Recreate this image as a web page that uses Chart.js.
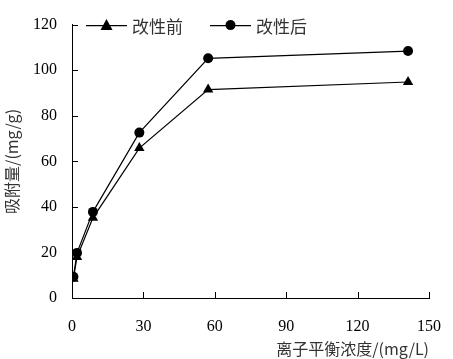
<!DOCTYPE html>
<html>
<head>
<meta charset="utf-8">
<script src="https://cdn.jsdelivr.net/npm/chart.js@4.4.0/dist/chart.umd.min.js"></script>
<style>
html,body{margin:0;padding:0;background:#fff;}
#wrap{width:453px;height:359px;}
</style>
</head>
<body>
<div id="wrap"><canvas id="c" width="453" height="359"></canvas></div>
<script>
const seriesNames = ['改性前', '改性后'];
const xBefore = [0.6, 2.1, 8.8, 28.3, 57.2, 141.2];
const yBefore = [8.5, 18.0, 35.2, 65.8, 91.5, 94.8];
const xAfter = [0.6, 2.1, 8.8, 28.3, 57.2, 141.2];
const yAfter = [9.3, 19.8, 37.8, 72.6, 105.2, 108.4];
const xTitle = '离子平衡浓度/(mg/L)';
const yTitle = '吸附量/(mg/g)';
const xMin = 0, xMax = 150, xStep = 30;
const yMin = 0, yMax = 120, yStep = 20;

const FONT = "Liberation Serif, Tinos, DejaVu Serif, serif";
const CJK = "Noto Sans CJK SC, sans-serif";

const toPts = (xs, ys) => xs.map((x, i) => ({x: x, y: ys[i]}));

const innerTicks = {
  id: 'innerTicks',
  afterDatasetsDraw(chart) {
    const ctx = chart.ctx;
    const xs = chart.scales.x, ys = chart.scales.y;
    const ca = chart.chartArea;
    ctx.save();
    ctx.strokeStyle = '#000';
    ctx.lineWidth = 1;
    ctx.beginPath();
    ys.ticks.forEach(t => {
      if (t.value === yMin) return;
      const p = Math.round(ys.getPixelForValue(t.value)) + 0.5;
      ctx.moveTo(ca.left, p); ctx.lineTo(ca.left + 6, p);
    });
    xs.ticks.forEach(t => {
      if (t.value === xMin) return;
      const p = Math.round(xs.getPixelForValue(t.value)) + 0.5;
      ctx.moveTo(p, ca.bottom); ctx.lineTo(p, ca.bottom - 6);
    });
    ctx.stroke();
    ctx.restore();
  }
};

const customLegend = {
  id: 'customLegend',
  afterDraw(chart) {
    const ctx = chart.ctx;
    const ca = chart.chartArea;
    const y = ca.top + 0.5;
    const items = [
      {x0: ca.left + 14},
      {x0: ca.left + 138}
    ];
    ctx.save();
    chart.data.datasets.forEach((ds, i) => {
      const it = items[i];
      ctx.strokeStyle = '#000';
      ctx.lineWidth = 1.2;
      ctx.beginPath();
      ctx.moveTo(it.x0, y + 0.5); ctx.lineTo(it.x0 + 41, y + 0.5);
      ctx.stroke();
      const cx = it.x0 + 20.5;
      ctx.fillStyle = '#000';
      ctx.beginPath();
      if (ds.pointStyle === 'triangle') {
        ctx.moveTo(cx, y - 6); ctx.lineTo(cx + 6, y + 5); ctx.lineTo(cx - 6, y + 5); ctx.closePath();
      } else {
        ctx.arc(cx, y, 5, 0, Math.PI * 2);
      }
      ctx.fill();
      ctx.fillStyle = '#333';
      ctx.font = "17px " + CJK;
      ctx.textBaseline = 'middle';
      ctx.textAlign = 'left';
      ctx.fillText(ds.label, it.x0 + 46, y + 1);
    });
    ctx.restore();
  }
};

new Chart(document.getElementById('c'), {
  type: 'scatter',
  data: {
    datasets: [
      {
        label: seriesNames[0],
        data: toPts(xBefore, yBefore),
        showLine: true,
        borderColor: '#000',
        backgroundColor: '#000',
        borderWidth: 1.2,
        pointStyle: 'triangle',
        pointRadius: 6,
        pointBorderWidth: 0,
        tension: 0
      },
      {
        label: seriesNames[1],
        data: toPts(xAfter, yAfter),
        showLine: true,
        borderColor: '#000',
        backgroundColor: '#000',
        borderWidth: 1.2,
        pointStyle: 'circle',
        pointRadius: 5,
        pointBorderWidth: 0,
        tension: 0
      }
    ]
  },
  options: {
    responsive: false,
    animation: false,
    events: [],
    layout: {padding: {left: 0, right: 24, top: 24, bottom: 0}},
    plugins: {legend: {display: false}, tooltip: {enabled: false}},
    scales: {
      x: {
        type: 'linear',
        min: xMin, max: xMax,
        afterFit(s) { s.height = 61; s.paddingLeft = 0; s.paddingRight = 0; },
        ticks: {stepSize: xStep, color: '#000', font: {family: FONT, size: 16}, padding: 19, maxRotation: 0},
        grid: {display: true, drawOnChartArea: false, drawTicks: false},
        border: {display: true, color: '#000', width: 1},
        title: {display: true, text: xTitle, align: 'end', color: '#333', font: {family: CJK, size: 16}, padding: {top: 0, bottom: 0}}
      },
      y: {
        type: 'linear',
        min: yMin, max: yMax,
        afterFit(s) { s.width = 72; },
        ticks: {stepSize: yStep, color: '#000', font: {family: FONT, size: 16}, padding: 15},
        grid: {display: true, drawOnChartArea: false, drawTicks: false},
        border: {display: true, color: '#000', width: 1},
        title: {display: true, text: yTitle, color: '#333', font: {family: CJK, size: 16}, padding: {top: 2, bottom: 0}}
      }
    }
  },
  plugins: [innerTicks, customLegend]
});
</script>
</body>
</html>
